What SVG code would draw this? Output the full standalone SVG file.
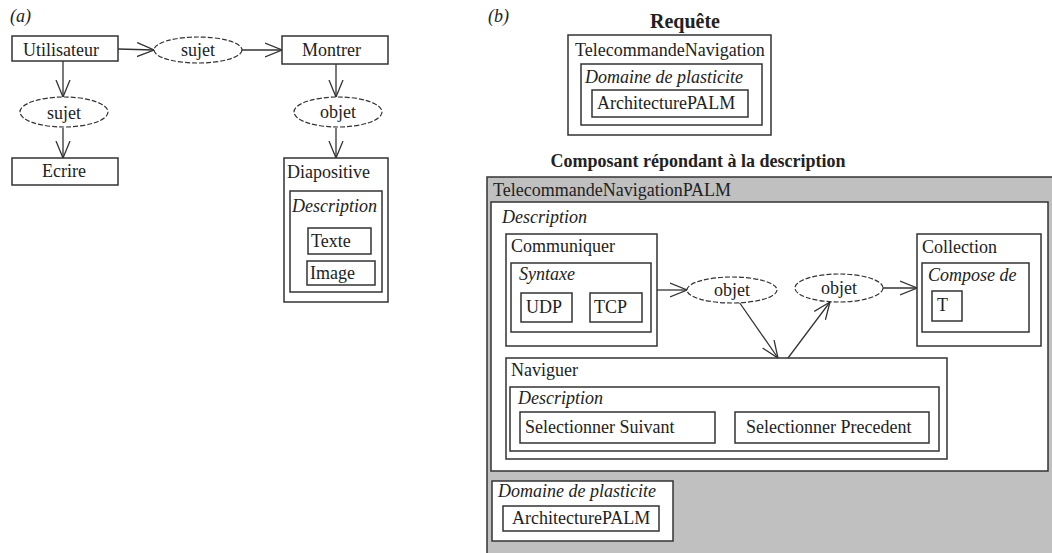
<svg xmlns="http://www.w3.org/2000/svg" width="1052" height="553" viewBox="0 0 1052 553" font-family="'Liberation Serif', 'DejaVu Serif', serif">
  <style>
    text { font-family: "Liberation Serif", "DejaVu Serif", serif; font-size: 18px; fill: #222; }
    .it { font-style: italic; }
    .b { font-weight: bold; }
    .c { text-anchor: middle; }
    .box { fill: #fff; stroke: #333; stroke-width: 1.5; }
    .rel { fill: #fff; stroke: #333; stroke-width: 1.2; stroke-dasharray: 5 2; }
    .edge { fill: none; stroke: #333; stroke-width: 1.3; marker-end: url(#arrow); }
  </style>
  <defs>
    <marker id="arrow" markerUnits="userSpaceOnUse" viewBox="0 0 17 16" refX="17" refY="8" markerWidth="17" markerHeight="16" orient="auto">
      <path d="M0,1 L17,8 L0,15" fill="none" stroke="#333" stroke-width="1.3"/>
    </marker>
  </defs>
  <rect width="1052" height="553" fill="#fff"/>

  <!-- Part (a): conceptual graph -->
  <text class="it" x="10" y="22" font-size="20">(a)</text>

  <g id="connectors-a">
    <line class="edge" x1="118" y1="49" x2="154" y2="50"/>
    <line class="edge" x1="242" y1="50" x2="282" y2="50"/>
    <line class="edge" x1="63" y1="61" x2="63" y2="97"/>
    <line class="edge" x1="63" y1="128" x2="63" y2="158"/>
    <line class="edge" x1="336" y1="64" x2="336" y2="97"/>
    <line class="edge" x1="336" y1="128" x2="336" y2="158"/>
  </g>

  <g id="utilisateur">
    <rect class="box" x="12" y="36" width="106" height="25"/>
    <text x="23" y="56">Utilisateur</text>
  </g>
  <g id="sujet-1">
    <ellipse class="rel" cx="198" cy="50" rx="44" ry="13"/>
    <text class="c" x="198" y="56">sujet</text>
  </g>
  <g id="montrer">
    <rect class="box" x="282" y="36" width="106" height="28"/>
    <text x="302" y="56">Montrer</text>
  </g>
  <g id="sujet-2">
    <ellipse class="rel" cx="64" cy="112" rx="44" ry="15"/>
    <text class="c" x="64" y="119">sujet</text>
  </g>
  <g id="ecrire">
    <rect class="box" x="12" y="158" width="106" height="27"/>
    <text x="42" y="177">Ecrire</text>
  </g>
  <g id="objet-a">
    <ellipse class="rel" cx="338" cy="112" rx="44" ry="15"/>
    <text class="c" x="338" y="118">objet</text>
  </g>
  <g id="diapositive">
    <rect class="box" x="284" y="158" width="104" height="144"/>
    <text x="287" y="178">Diapositive</text>
    <rect class="box" x="290" y="191" width="92" height="101"/>
    <text class="it" x="292" y="212">Description</text>
    <rect class="box" x="308" y="228" width="63" height="26"/>
    <text x="311" y="247">Texte</text>
    <rect class="box" x="307" y="261" width="68" height="24"/>
    <text x="310" y="279">Image</text>
  </g>

  <!-- Part (b): request and matching component -->
  <text class="it" x="488" y="22" font-size="20">(b)</text>
  <text class="b c" x="685" y="28" font-size="20" style="font-size:20px">Requête</text>

  <g id="requete">
    <rect class="box" x="568" y="35" width="203" height="100"/>
    <text x="575" y="56">TelecommandeNavigation</text>
    <rect class="box" x="581" y="64" width="181" height="61"/>
    <text class="it" x="585" y="83">Domaine de plasticite</text>
    <rect class="box" x="592" y="90" width="156" height="27"/>
    <text x="597" y="109">ArchitecturePALM</text>
  </g>

  <text class="b c" x="698" y="167">Composant répondant à la description</text>

  <g id="composant">
    <rect x="487" y="177" width="568" height="380" fill="#c0c0c0" stroke="#333" stroke-width="1.5"/>
    <text x="493" y="196">TelecommandeNavigationPALM</text>
    <rect class="box" x="491" y="202" width="557" height="269"/>
    <text class="it" x="502" y="223">Description</text>
  </g>

  <g id="communiquer">
    <rect class="box" x="506" y="234" width="151" height="112"/>
    <text x="511" y="252">Communiquer</text>
    <rect class="box" x="511" y="263" width="140" height="69"/>
    <text class="it" x="519" y="280">Syntaxe</text>
    <rect class="box" x="521" y="293" width="51" height="29"/>
    <text x="526" y="313">UDP</text>
    <rect class="box" x="590" y="293" width="52" height="29"/>
    <text x="594" y="313">TCP</text>
  </g>

  <g id="collection">
    <rect class="box" x="917" y="234" width="124" height="112"/>
    <text x="922" y="253">Collection</text>
    <rect class="box" x="922" y="263" width="107" height="69"/>
    <text class="it" x="928" y="281">Compose de</text>
    <rect class="box" x="932" y="291" width="30" height="30"/>
    <text x="937" y="311">T</text>
  </g>

  <g id="naviguer">
    <rect class="box" x="506" y="358" width="441" height="101"/>
    <text x="511" y="376">Naviguer</text>
    <rect class="box" x="510" y="387" width="429" height="64"/>
    <text class="it" x="518" y="404">Description</text>
    <rect class="box" x="520" y="412" width="195" height="31"/>
    <text x="525" y="433">Selectionner Suivant</text>
    <rect class="box" x="735" y="412" width="194" height="31"/>
    <text x="746" y="433">Selectionner Precedent</text>
  </g>

  <g id="domaine">
    <rect class="box" x="492" y="481" width="181" height="60"/>
    <text class="it" x="498" y="497">Domaine de plasticite</text>
    <rect class="box" x="503" y="506" width="156" height="25"/>
    <text x="512" y="524">ArchitecturePALM</text>
  </g>

  <g id="connectors-b">
    <line class="edge" x1="657" y1="290" x2="687" y2="290"/>
    <line class="edge" x1="883" y1="288" x2="917" y2="288"/>
    <line class="edge" x1="737" y1="299" x2="778" y2="358"/>
    <line class="edge" x1="788" y1="358" x2="830" y2="302"/>
  </g>

  <g id="objet-1">
    <ellipse class="rel" cx="732" cy="290" rx="45" ry="13"/>
    <text class="c" x="732" y="296">objet</text>
  </g>
  <g id="objet-2">
    <ellipse class="rel" cx="839" cy="288" rx="44" ry="14"/>
    <text class="c" x="839" y="294">objet</text>
  </g>
</svg>
